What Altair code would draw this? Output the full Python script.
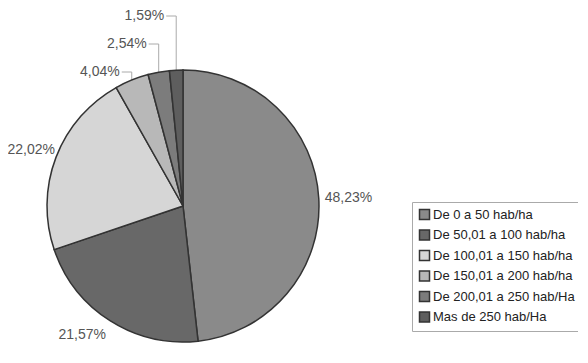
import altair as alt
import pandas as pd

categories = ["De 0 a 50 hab/ha", "De 50,01 a 100 hab/ha", "De 100,01 a 150 hab/ha",
              "De 150,01 a 200 hab/ha", "De 200,01 a 250 hab/Ha", "Mas de 250 hab/Ha"]
values = [48.23, 21.57, 22.02, 4.04, 2.54, 1.59]
labels = ["48,23%", "21,57%", "22,02%", "4,04%", "2,54%", "1,59%"]
colors = ["#8a8a8a", "#686868", "#d6d6d6", "#b8b8b8", "#7c7c7c", "#5e5e5e"]

df = pd.DataFrame({"cat": categories, "value": values, "label": labels,
                   "order": list(range(len(values)))})

CX, CY, R = 175, 198, 136
FONT = "Liberation Sans"

base = (
    alt.Chart(df)
    .transform_joinaggregate(total="sum(value)")
    .transform_window(cum="sum(value)", sort=[alt.SortField("order")], frame=[None, 0])
    .transform_calculate(mid="(datum.cum - datum.value/2)/datum.total*2*PI")
    .transform_calculate(ex=f"{CX} + {R}*sin(datum.mid)")
    .transform_calculate(ey=f"{CY} - {R}*cos(datum.mid)")
    .transform_calculate(small="datum.value < 10 ? 1 : 0")
    .transform_calculate(right="sin(datum.mid) > 0 ? 1 : 0")
    .transform_window(rk="row_number()", groupby=["small"], sort=[alt.SortField("order")])
    .transform_calculate(
        lx="datum.small ? datum.ex - 12 : (datum.right ? datum.ex + 6 : max(47, datum.ex - 4))")
    .transform_calculate(
        ly=f"datum.small ? {CY - R + 2} - 28*(datum.rk - 1) : "
           "(cos(datum.mid) < -0.7 ? datum.ey + 14 : datum.ey - 7*(1 - datum.right))")
    .transform_calculate(hx="datum.ex - 10")
)

arcs = alt.Chart(df).mark_arc(radius=R, stroke="#333333", strokeWidth=1.5).encode(
    theta=alt.Theta("value:Q", stack=True),
    order=alt.Order("order:Q"),
    color=alt.Color(
        "cat:N",
        scale=alt.Scale(domain=categories, range=colors),
        legend=alt.Legend(
            title=None, orient="none", legendX=404, legendY=194,
            symbolType="square", symbolSize=100, symbolStrokeColor="#333333",
            symbolStrokeWidth=1.5, labelFontSize=13, labelFont=FONT,
            labelColor="#222222", rowPadding=3.5, strokeColor="#aaaaaa",
            padding=6, labelOffset=2, labelLimit=300,
        ),
    ),
    x=alt.value(CX),
    y=alt.value(CY),
)

text_kw = dict(font=FONT, fontSize=14, color="#555555", baseline="middle")
enc = dict(x=alt.X("lx:Q", scale=None), y=alt.Y("ly:Q", scale=None), text="label:N")

right_text = base.transform_filter("datum.small == 0 && datum.right == 1").mark_text(
    align="left", **text_kw).encode(**enc)

left_text = base.transform_filter("datum.small == 1 || datum.right == 0").mark_text(
    align="right", **text_kw).encode(**enc)

vlead = base.transform_filter("datum.small == 1").mark_rule(
    color="#aaaaaa", strokeWidth=1
).encode(x=alt.X("ex:Q", scale=None), y=alt.Y("ey:Q", scale=None), y2="ly:Q")

hlead = base.transform_filter("datum.small == 1").mark_rule(
    color="#aaaaaa", strokeWidth=1
).encode(x=alt.X("hx:Q", scale=None), x2="ex:Q", y=alt.Y("ly:Q", scale=None))

chart = (
    alt.layer(vlead, hlead, arcs, right_text, left_text)
    .properties(width=570, height=345, autosize="none", padding=0, background="white")
    .configure_view(stroke=None)
)

chart.save("out.html", embed_options={"renderer": "svg", "actions": False})
